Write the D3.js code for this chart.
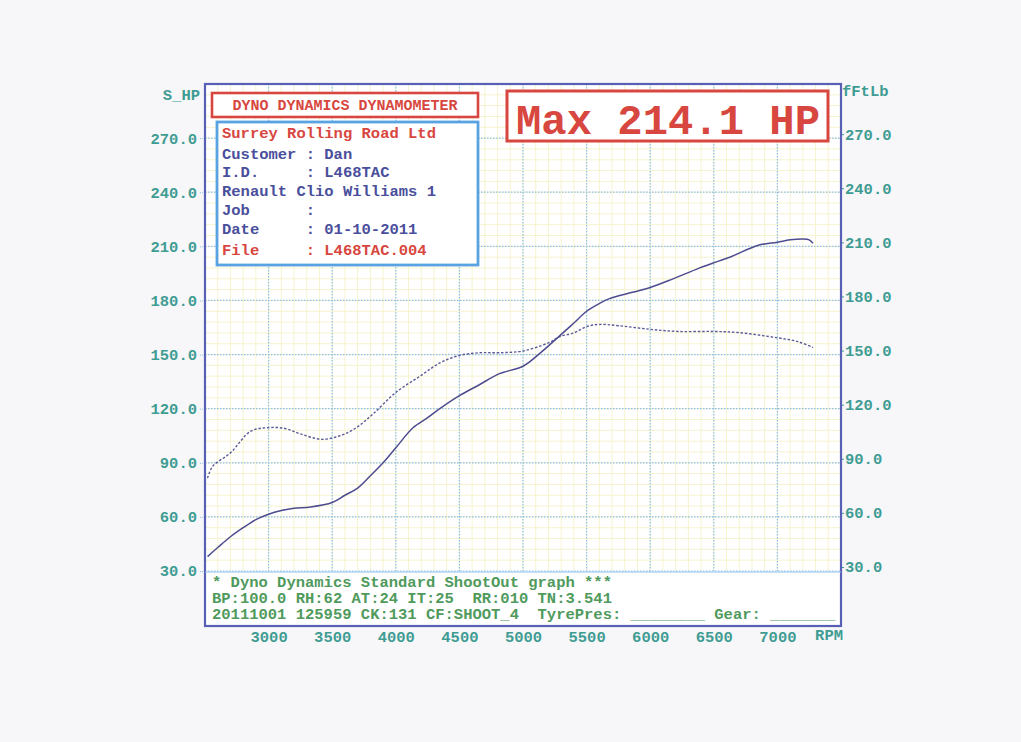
<!DOCTYPE html>
<html>
<head>
<meta charset="utf-8">
<script src="https://cdn.jsdelivr.net/npm/d3@7"></script>
<style>
  html, body { margin: 0; padding: 0; background: #f7f7f9; }
  svg { display: block; }
  text { font-family: "Liberation Mono", "DejaVu Sans Mono", monospace; font-weight: bold; }
</style>
</head>
<body>
<svg id="chart" width="1021" height="742"></svg>
<script>
// ---------------- data ----------------
const rpmTicks = [3000, 3500, 4000, 4500, 5000, 5500, 6000, 6500, 7000];
const yTicks = [30, 60, 90, 120, 150, 180, 210, 240, 270];

// Power curve (S_HP), solid line
const powerRpm = [2520, 2600, 2700, 2800, 2900, 3000, 3100, 3200, 3330, 3500, 3600, 3700, 3800, 3900, 4000,
                  4135, 4250, 4346, 4500, 4650, 4815, 5000, 5130, 5290, 5400, 5500, 5600, 5680, 5860, 6000,
                  6170, 6380, 6490, 6640, 6850, 7000, 7100, 7200, 7250, 7280];
const powerHp  = [38, 43, 49, 54, 58.5, 61.5, 63.5, 64.8, 65.5, 68, 72, 76, 82.8, 90, 98.3,
                  109.4, 115, 120, 127.2, 133, 139.4, 143.5, 150.5, 160.5, 167.5, 174, 178.3, 181, 184.5, 187.2,
                  191.7, 197.8, 200.6, 204.4, 210.6, 212.3, 213.6, 214.1, 213.6, 211.7];

// Torque curve (fFtLb), dotted line
const torqueRpm = [2520, 2560, 2700, 2860, 3000, 3130, 3250, 3420, 3560, 3680, 3820, 4000, 4190, 4350, 4500,
                   4660, 4815, 5000, 5200, 5290, 5400, 5500, 5600, 5750, 6000, 6220, 6490, 6690, 6990, 7160, 7280];
const torqueFtLb = [81.5, 88, 95.5, 107.5, 109.5, 109, 106, 103, 105, 109, 117, 129, 138, 145.5, 149.5,
                    151, 151, 152, 156.5, 160, 162, 165.5, 166.7, 166, 164, 162.8, 162.8, 162.2, 159.4, 157.2, 153.9];

const headerTitle = "DYNO DYNAMICS DYNAMOMETER";
const infoLines = [
  { t: "Surrey Rolling Road Ltd", red: true },
  { t: "Customer : Dan", red: false },
  { t: "I.D.     : L468TAC", red: false },
  { t: "Renault Clio Williams 1", red: false },
  { t: "Job      :", red: false },
  { t: "Date     : 01-10-2011", red: false },
  { t: "File     : L468TAC.004", red: true }
];
const maxLabel = "Max 214.1 HP";
const footerLines = [
  "* Dyno Dynamics Standard ShootOut graph ***",
  "BP:100.0 RH:62 AT:24 IT:25  RR:010 TN:3.541",
  "20111001 125959 CK:131 CF:SHOOT_4  TyrePres: ________ Gear: _______"
];
const leftAxisTitle = "S_HP";
const rightAxisTitle = "fFtLb";
const xAxisUnit = "RPM";

// ---------------- layout ----------------
const svg = d3.select("#chart");
const L = 205, R = 841, T = 84, GB = 571, FB = 626;
const x = d3.scaleLinear().domain([2500, 7500]).range([L, R]);
const y = d3.scaleLinear().domain([30, 300]).range([GB, T]);

const teal = "#3f9c93";
const green = "#4f9a5c";
const red = "#d8473f";
const navy = "#4a4f9c";
const frameCol = "#5760b5";
const boxBlue = "#5aa3e2";
const curveCol = "#4d4c8e";

// plot background
svg.append("rect").attr("x", L).attr("y", T).attr("width", R - L).attr("height", FB - T).attr("fill", "#ffffff");

// minor grid (yellow)
const minorX = d3.range(2600, 7500, 100);
const minorY = d3.range(36, 300, 6);
const g = svg.append("g");
g.selectAll(".mx").data(minorX).join("line")
  .attr("x1", d => x(d)).attr("x2", d => x(d)).attr("y1", T).attr("y2", GB)
  .attr("stroke", "#f6f3cf").attr("stroke-width", 1);
g.selectAll(".my").data(minorY).join("line")
  .attr("x1", L).attr("x2", R).attr("y1", d => y(d)).attr("y2", d => y(d))
  .attr("stroke", "#f6f3cf").attr("stroke-width", 1);

// major grid (dotted blue)
const majorX = d3.range(2500, 7501, 500);
const majorY = d3.range(30, 301, 30);
g.selectAll(".Mx").data(majorX).join("line")
  .attr("x1", d => x(d)).attr("x2", d => x(d)).attr("y1", T).attr("y2", GB)
  .attr("stroke", "#8cc0ea").attr("stroke-width", 1.2).attr("stroke-dasharray", "1.5,1.5");
g.selectAll(".My").data(majorY).join("line")
  .attr("x1", L).attr("x2", R).attr("y1", d => y(d)).attr("y2", d => y(d))
  .attr("stroke", "#8cc0ea").attr("stroke-width", 1.2).attr("stroke-dasharray", "1.5,1.5");

// left axis
const leftAxis = d3.axisLeft(y).tickValues(yTicks).tickFormat(d3.format(".1f")).tickSize(5).tickPadding(3);
const la = svg.append("g").attr("transform", `translate(${L},0)`).call(leftAxis);
la.select(".domain").remove();
la.selectAll("line").attr("stroke", "#8cc0ea").attr("stroke-dasharray", "1,1");
la.selectAll("text").attr("fill", teal).attr("font-size", 15.5).attr("font-family", "Liberation Mono");

// right axis
const rightAxis = d3.axisRight(y).tickValues(yTicks).tickFormat(d3.format(".1f")).tickSize(3).tickPadding(1);
const ra = svg.append("g").attr("transform", `translate(${R},-4)`).call(rightAxis);
ra.select(".domain").remove();
ra.selectAll("line").attr("stroke", teal);
ra.selectAll("text").attr("fill", teal).attr("font-size", 15.5).attr("font-family", "Liberation Mono");

// bottom axis
const bottomAxis = d3.axisBottom(x).tickValues(rpmTicks).tickFormat(d3.format("d")).tickSize(0).tickPadding(5);
const ba = svg.append("g").attr("transform", `translate(0,${FB})`).call(bottomAxis);
ba.select(".domain").remove();
ba.selectAll("text").attr("fill", teal).attr("font-size", 15.5).attr("font-family", "Liberation Mono");

svg.append("text").attr("x", 843).attr("y", 640).attr("text-anchor", "end")
  .attr("fill", teal).attr("font-size", 15.5).text(xAxisUnit);
svg.append("text").attr("x", 200).attr("y", 100).attr("text-anchor", "end")
  .attr("fill", teal).attr("font-size", 15.5).text(leftAxisTitle);
svg.append("text").attr("x", 842).attr("y", 96).attr("text-anchor", "start")
  .attr("fill", teal).attr("font-size", 15.5).text(rightAxisTitle);

// curves
const powerData = powerRpm.map((r, i) => [r, powerHp[i]]);
const torqueData = torqueRpm.map((r, i) => [r, torqueFtLb[i]]);
const line = d3.line().x(d => x(d[0])).y(d => y(d[1])).curve(d3.curveCatmullRom.alpha(0.5));

svg.append("path").datum(torqueData).attr("d", line)
  .attr("fill", "none").attr("stroke", "#5b5a98").attr("stroke-width", 1.4).attr("stroke-dasharray", "2.5,1.8");
svg.append("path").datum(powerData).attr("d", line)
  .attr("fill", "none").attr("stroke", curveCol).attr("stroke-width", 1.5);

// frame
svg.append("rect").attr("x", L).attr("y", T).attr("width", R - L).attr("height", FB - T)
  .attr("fill", "none").attr("stroke", frameCol).attr("stroke-width", 2.2);
svg.append("line").attr("x1", L).attr("x2", R).attr("y1", GB + 1).attr("y2", GB + 1)
  .attr("stroke", "#8cc0ea").attr("stroke-width", 1);

// header title box
svg.append("rect").attr("x", 212).attr("y", 93).attr("width", 266).attr("height", 24)
  .attr("fill", "#ffffff").attr("stroke", red).attr("stroke-width", 2.6);
svg.append("text").attr("x", 345).attr("y", 110).attr("text-anchor", "middle")
  .attr("fill", red).attr("font-size", 15).text(headerTitle);

// info box
svg.append("rect").attr("x", 217).attr("y", 122).attr("width", 261).attr("height", 143)
  .attr("fill", "#ffffff").attr("stroke", boxBlue).attr("stroke-width", 2.8);
const lineY = [138, 159, 177, 196, 215, 234, 255];
svg.selectAll(".info").data(infoLines).join("text")
  .attr("x", 222).attr("y", (d, i) => lineY[i])
  .attr("fill", d => d.red ? red : navy).attr("font-size", 15.5)
  .style("white-space", "pre").text(d => d.t);

// max box
svg.append("rect").attr("x", 507).attr("y", 91).attr("width", 321).attr("height", 50)
  .attr("fill", "#ffffff").attr("stroke", red).attr("stroke-width", 3);
svg.append("text").attr("x", 668).attr("y", 134).attr("text-anchor", "middle")
  .attr("fill", red).attr("font-size", 42).attr("textLength", 304).attr("lengthAdjust", "spacingAndGlyphs")
  .text(maxLabel);

// footer text
const footY = [587, 603, 619];
svg.selectAll(".foot").data(footerLines).join("text")
  .attr("x", 212).attr("y", (d, i) => footY[i])
  .attr("fill", green).attr("font-size", 15.5)
  .style("white-space", "pre").text(d => d);
</script>
</body>
</html>
